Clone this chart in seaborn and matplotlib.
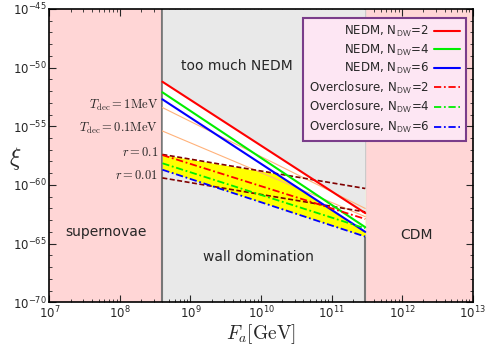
import numpy as np
import pandas as pd
import matplotlib
matplotlib.use("Agg")
import matplotlib.pyplot as plt
import seaborn as sns
from matplotlib.ticker import FixedLocator, LogLocator, NullFormatter

# Data: log10(xi) at the two ends of the allowed F_a window
fa = [4e8, 3e11]
nedm2 = [-51.2, -62.4]
nedm4 = [-52.1, -63.6]
nedm6 = [-52.7, -64.0]
oc2 = [-57.45, -62.9]
oc4 = [-58.15, -63.7]
oc6 = [-58.7, -64.4]
tdec1 = [-53.4, -62.0]
tdec01 = [-55.4, -62.7]
r01 = [-57.4, -60.3]
r001 = [-59.4, -62.3]

sns.set_style("ticks", {"xtick.direction": "in", "ytick.direction": "in",
                        "xtick.top": True, "ytick.right": True,
                        "axes.edgecolor": "black"})
plt.rcParams["mathtext.fontset"] = "cm"
plt.rcParams["font.family"] = ["DejaVu Sans"]

def xi(v):
    return 10.0 ** np.array(v)

fig = plt.figure(figsize=(4.86, 3.45), dpi=100)
ax = fig.add_axes([0.1015, 0.1238, 0.8711, 0.8502])
ax.set_xscale("log")
ax.set_yscale("log")
ax.set_xlim(1e7, 1e13)
ax.set_ylim(1e-70, 1e-45)

# Background regions
pink = "#ffd6d6"
gray = "#e9e9e9"
ax.axvspan(1e7, fa[0], color=pink, zorder=0)
ax.axvspan(fa[1], 1e13, color=pink, zorder=0)
ax.axvspan(fa[0], fa[1], color=gray, zorder=0)
ax.axvline(fa[0], color="#777777", lw=1.5, zorder=1)
ax.axvline(fa[1], color="#777777", lw=1.5, zorder=1)

# allowed band
ax.fill_between(fa, xi(oc6), xi(nedm2), color="white", lw=0, zorder=1)
ax.fill_between(fa, xi(oc6), xi(r01), color="yellow", lw=0, zorder=1.1)
ax.fill_between(fa, xi(r01), xi(nedm6), color="white", lw=0, zorder=1.2)
ax.fill_between(fa, xi(nedm2), 1e-45, color=gray, lw=0, zorder=1.3)

# thin reference lines
for v in (tdec1, tdec01):
    sns.lineplot(x=fa, y=xi(v), color="#ffb27a", lw=0.8, ax=ax, zorder=2)
for v in (r01, r001):
    sns.lineplot(x=fa, y=xi(v), color="#800000", lw=1.2, ax=ax, zorder=2,
                 linestyle=(0, (3, 1.5)))

cols = ["red", "#00ee00", "blue"]
for v, c, n in zip((nedm2, nedm4, nedm6), cols, (2, 4, 6)):
    sns.lineplot(x=fa, y=xi(v), color=c, lw=1.5, ax=ax, zorder=3,
                 label="NEDM, N$_{\\mathsf{DW}}$=%d" % n)
for v, c, n in zip((oc2, oc4, oc6), cols, (2, 4, 6)):
    sns.lineplot(x=fa, y=xi(v), color=c, lw=1.3, ax=ax, zorder=3,
                 linestyle=(0, (4, 1.5, 1, 1.5)),
                 label="Overclosure, N$_{\\mathsf{DW}}$=%d" % n)

# line labels
lab_x = 3.5e8
ax.text(lab_x, xi(tdec1[0]) * 1.6, r"$T_{\rm dec}=1{\rm MeV}$", ha="right", va="center", fontsize=9)
ax.text(lab_x, xi(tdec01[0]) * 1.6, r"$T_{\rm dec}=0.1{\rm MeV}$", ha="right", va="center", fontsize=9)
ax.text(lab_x, xi(r01[0]) * 1.6, r"$r=0.1$", ha="right", va="center", fontsize=9)
ax.text(lab_x, xi(r001[0]) * 1.6, r"$r=0.01$", ha="right", va="center", fontsize=9)

# region labels
ax.text(0.443, 0.806, "too much NEDM", transform=ax.transAxes, ha="center", va="center", fontsize=10)
ax.text(0.495, 0.154, "wall domination", transform=ax.transAxes, ha="center", va="center", fontsize=10)
ax.text(0.133, 0.24, "supernovae", transform=ax.transAxes, ha="center", va="center", fontsize=10)
ax.text(0.868, 0.229, "CDM", transform=ax.transAxes, ha="center", va="center", fontsize=10)

ax.yaxis.set_major_locator(FixedLocator([1e-70, 1e-65, 1e-60, 1e-55, 1e-50, 1e-45]))
ax.yaxis.set_minor_locator(FixedLocator(10.0 ** np.arange(-70, -44)))
ax.yaxis.set_minor_formatter(NullFormatter())
ax.xaxis.set_minor_locator(LogLocator(base=10, subs=np.arange(2, 10), numticks=20))
ax.tick_params(which="major", length=5, width=0.8, labelsize=8.5, pad=2)
ax.tick_params(which="minor", length=2.5, width=0.6)
for s in ax.spines.values():
    s.set_linewidth(1.2)

ax.set_xlabel(r"$F_a[\mathrm{GeV}]$", fontsize=14, va="center")
ax.xaxis.set_label_coords(0.5, -0.107)
ax.set_ylabel(r"$\xi$", fontsize=17, rotation=0, va="center", ha="center")
ax.yaxis.set_label_coords(-0.08, 0.49)

leg = ax.legend(loc="upper right", bbox_to_anchor=(0.984, 0.969), borderaxespad=0,
                fontsize=8.5, markerfirst=False, handlelength=2.2, labelspacing=0.3,
                handletextpad=0.4, borderpad=0.5,
                fancybox=False, framealpha=1, facecolor="#fde6f3", edgecolor="#7a3d8a")
leg.get_frame().set_linewidth(1.5)

fig.savefig("out.png", dpi=100)
